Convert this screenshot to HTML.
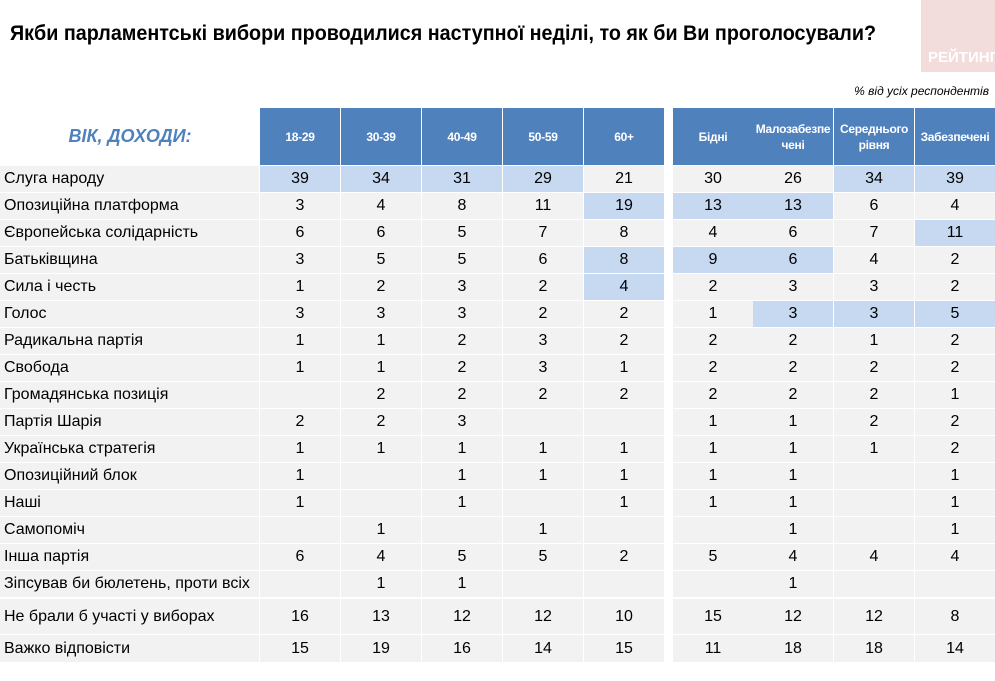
<!DOCTYPE html>
<html><head><meta charset="utf-8"><style>
body{margin:0;width:995px;height:681px;background:#fff;position:relative;overflow:hidden;font-family:"Liberation Sans",sans-serif}
.c{position:absolute;box-sizing:border-box;display:flex;align-items:center;justify-content:center;font-size:16px;color:#000}
.h{background:#4f81bd;color:#fff;font-weight:bold;font-size:12px;text-align:center;line-height:16px;font-family:"Liberation Sans Narrow","Liberation Sans",sans-serif;overflow:hidden;letter-spacing:-0.3px}
.g{background:#f2f2f2}.b{background:#c6d9f1}
.l{justify-content:flex-start;padding-left:4px}
</style></head><body>
<div style="position:absolute;left:921px;top:0;width:74px;height:72px;background:#f3dcdc;overflow:hidden"><div style="position:absolute;left:7px;top:49px;color:#fff;font-weight:bold;font-size:15px;white-space:nowrap">РЕЙТИНГ</div></div>
<svg style="position:absolute;left:0;top:0" width="900" height="60"><text x="10" y="40" textLength="866" lengthAdjust="spacingAndGlyphs" font-family="Liberation Sans, sans-serif" font-weight="bold" font-size="21">Якби парламентські вибори проводилися наступної неділі, то як би Ви проголосували?</text></svg>
<div style="position:absolute;right:6px;top:84px;font-style:italic;font-size:12px">% від усіх респондентів</div>
<div style="position:absolute;left:0;width:260px;top:126px;text-align:center;color:#4f81bd;font-weight:bold;font-style:italic;font-size:18px">ВІК, ДОХОДИ:</div>
<div id="t"></div>
<script>
const headers=["18-29","30-39","40-49","50-59","60+","Бідні","Малозабезпе<br>чені","Середнього<br>рівня","Забезпечені"];
const parties=["Слуга народу","Опозиційна платформа","Європейська солідарність","Батьківщина","Сила і честь","Голос","Радикальна партія","Свобода","Громадянська позиція","Партія Шарія","Українська стратегія","Опозиційний блок","Наші","Самопоміч","Інша партія","Зіпсував би бюлетень, проти всіх","Не брали б участі у виборах","Важко відповісти"];
const values=[
[39,34,31,29,21,30,26,34,39],
[3,4,8,11,19,13,13,6,4],
[6,6,5,7,8,4,6,7,11],
[3,5,5,6,8,9,6,4,2],
[1,2,3,2,4,2,3,3,2],
[3,3,3,2,2,1,3,3,5],
[1,1,2,3,2,2,2,1,2],
[1,1,2,3,1,2,2,2,2],
[null,2,2,2,2,2,2,2,1],
[2,2,3,null,null,1,1,2,2],
[1,1,1,1,1,1,1,1,2],
[1,null,1,1,1,1,1,null,1],
[1,null,1,null,1,1,1,null,1],
[null,1,null,1,null,null,1,null,1],
[6,4,5,5,2,5,4,4,4],
[null,1,1,null,null,null,1,null,null],
[16,13,12,12,10,15,12,12,8],
[15,19,16,14,15,11,18,18,14]];
const highlights=[[0,0],[0,1],[0,2],[0,3],[0,7],[0,8],[1,4],[1,5],[1,6],[2,8],[3,4],[3,5],[3,6],[4,4],[5,6],[5,7],[5,8]];
const t=document.getElementById('t');
const colX=[260,341,422,503,584,673,753,834,915];
const rowY=i=>i<16?166+i*27:(i==16?599:635);
const rowH=i=>i<16?26:(i==16?35:27);
function cell(cls,x,y,w,h,html){const d=document.createElement('div');d.className='c '+cls;d.style.left=x+'px';d.style.top=y+'px';d.style.width=w+'px';d.style.height=h+'px';d.innerHTML=html;t.appendChild(d);return d;}
headers.forEach((hd,j)=>{const d=cell('h',colX[j],108,80,57,hd);

});
parties.forEach((p,i)=>{const y=rowY(i),h=rowH(i);
const l=cell('g l',0,y,259,h,p);


values[i].forEach((v,j)=>{const hl=highlights.some(a=>a[0]==i&&a[1]==j);
const d=cell(hl?'b':'g',colX[j],y,80,h,v==null?'':v);

});});
</script>
</body></html>
